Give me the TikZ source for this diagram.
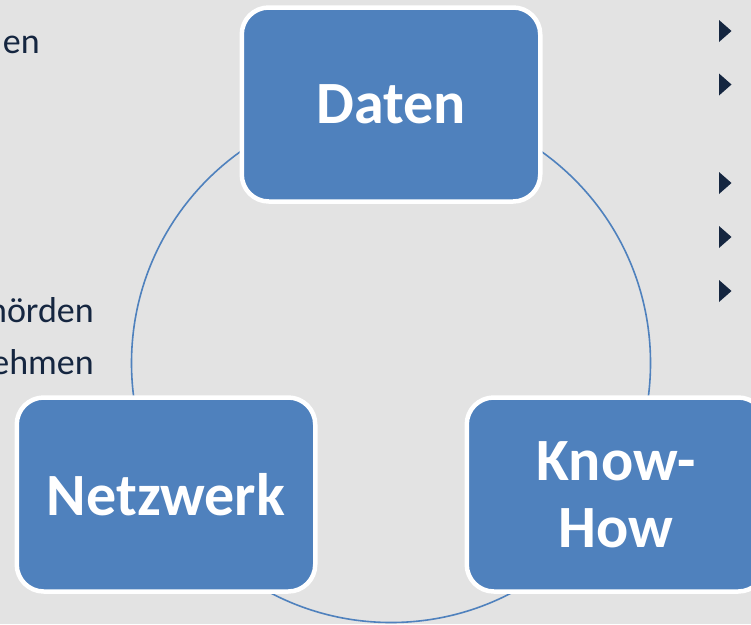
\documentclass[tikz,border=0pt]{standalone}
\usepackage{fontspec}
\setmainfont{Carlito}
\definecolor{bgc}{HTML}{E3E3E3}
\definecolor{boxblue}{HTML}{4F81BD}
\definecolor{navy}{HTML}{152640}
\begin{document}
\begin{tikzpicture}[x=1pt,y=-1pt,
  bluebox/.style={draw=white, line width=4.5pt, fill=boxblue, rounded corners=27pt,
    minimum width=298.5pt, minimum height=194pt, inner sep=0pt, text=white,
    font=\bfseries\fontsize{60}{67}\selectfont, align=center},
  sidetext/.style={inner sep=0pt, text=navy, font=\fontsize{36}{43}\selectfont, anchor=base east},
  bullet/.style={fill=navy, draw=none}]
\fill[bgc] (0,0) rectangle (751,624);
\useasboundingbox (0,0) rectangle (751,624);
% circle behind the boxes
\coordinate (cc) at (391,363);
\draw[boxblue, line width=1.6pt] (cc) circle[radius=259.5];
% boxes
\node[bluebox] (daten) at (391,104.5) {Daten};
\node[bluebox] (netz) at (166,494.5) {Netzwerk};
\node[bluebox] (know) at (616,494.5) {Know-\\How};
% partial side texts
\node[sidetext] (t1) at (40,53) {en};
\node[sidetext] (t2) at (94,322) {hörden};
\node[sidetext] (t3) at (94,374) {ehmen};
% bullets
\foreach \yy/\nm in {31/b1,84.5/b2,183/b3,237/b4,291/b5}{
  \fill[bullet] (719,\yy-11) -- (731.5,\yy) -- (719,\yy+11) -- cycle;
}
\end{tikzpicture}
\end{document}
